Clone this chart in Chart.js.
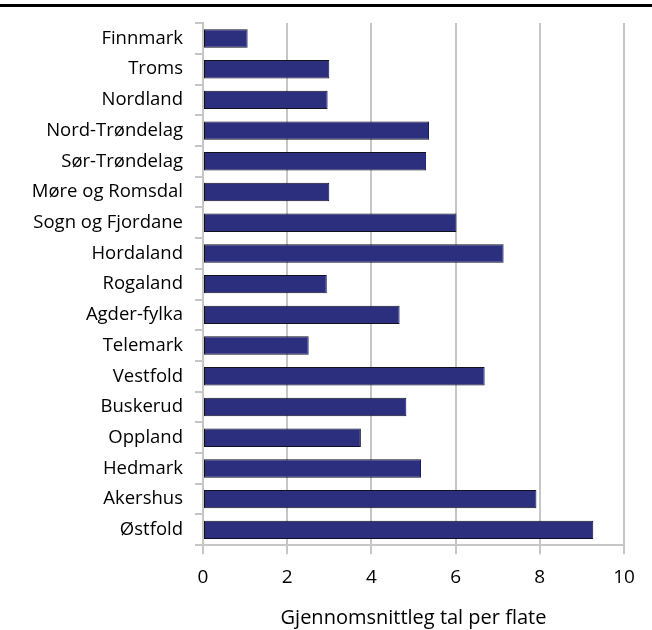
<!DOCTYPE html>
<html>
<head>
<meta charset="utf-8">
<script src="https://cdn.jsdelivr.net/npm/chart.js@4/dist/chart.umd.min.js"></script>
<style>
  html, body { margin: 0; padding: 0; background: #fff; }
  #wrap { position: relative; width: 652px; height: 630px; }
  #topline { position: absolute; left: 0; top: 4px; width: 652px; height: 3px; background: #000; }
  canvas { position: absolute; left: 0; top: 0; }
</style>
</head>
<body>
<div id="wrap">
  <canvas id="c" width="652" height="630"></canvas>
  <div id="topline"></div>
</div>
<script>
const categories = ["Finnmark", "Troms", "Nordland", "Nord-Trøndelag", "Sør-Trøndelag", "Møre og Romsdal",
  "Sogn og Fjordane", "Hordaland", "Rogaland", "Agder-fylka", "Telemark", "Vestfold", "Buskerud",
  "Oppland", "Hedmark", "Akershus", "Østfold"];
const values = [1.06, 3.0, 2.96, 5.37, 5.30, 3.0, 6.02, 7.14, 2.94, 4.67, 2.51, 6.69, 4.83, 3.75, 5.18, 7.92, 9.27];
const xTicks = [0, 2, 4, 6, 8, 10];
const xTitle = "Gjennomsnittleg tal per flate";

const fontFam = "'Open Sans', 'Noto Sans', sans-serif";

new Chart(document.getElementById('c'), {
  type: 'bar',
  data: {
    labels: categories,
    datasets: [{
      data: values,
      backgroundColor: '#2b2f7d',
      borderColor: '#111122',
      borderWidth: 1,
      borderSkipped: false,
      barPercentage: 0.6,
      categoryPercentage: 1.0
    }]
  },
  options: {
    indexAxis: 'y',
    responsive: false,
    animation: false,
    devicePixelRatio: 1,
    layout: { padding: { top: 22, right: 28, left: 0, bottom: 0 } },
    plugins: { legend: { display: false }, tooltip: { enabled: false } },
    scales: {
      x: {
        min: 0, max: 10,
        afterBuildTicks: (axis) => { axis.ticks = xTicks.map(v => ({ value: v })); },
        grid: { color: '#c6c6c6', lineWidth: 2, tickLength: 9, drawTicks: true },
        border: { color: '#c6c6c6', width: 2 },
        ticks: { color: '#000', font: { family: fontFam, size: 19 }, padding: 12 },
        title: { display: true, text: xTitle, color: '#000', font: { family: fontFam, size: 20 }, padding: { top: 5, bottom: 0 } }
      },
      y: {
        afterFit: (axis) => { axis.width = 203; },
        grid: { display: true, offset: true, drawOnChartArea: false, drawTicks: true, tickLength: 8, color: '#c6c6c6', lineWidth: 2 },
        border: { color: '#c6c6c6', width: 2 },
        ticks: { color: '#000', font: { family: fontFam, size: 18.5 }, padding: 12 }
      }
    }
  }
});
</script>
</body>
</html>
